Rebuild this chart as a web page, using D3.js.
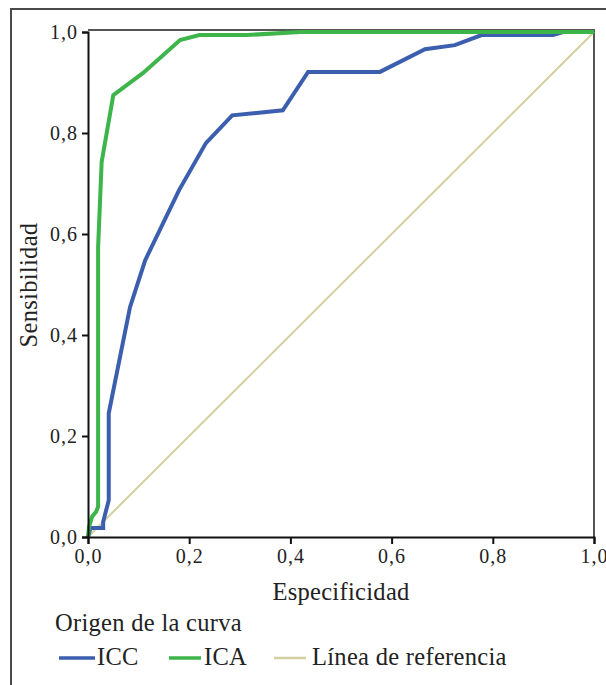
<!DOCTYPE html>
<html>
<head>
<meta charset="utf-8">
<script src="https://cdn.jsdelivr.net/npm/d3@7"></script>
<style>
  html, body { margin: 0; padding: 0; background: #fff; }
  svg { display: block; }
  text { font-family: "Liberation Serif", "Times New Roman", serif; fill: #222; }
</style>
</head>
<body>
<svg id="chart" width="606" height="685"></svg>
<script>
// ---- data ----
const iccX = [0, 0.005, 0.03, 0.03, 0.041, 0.041, 0.083, 0.113, 0.18, 0.233, 0.285, 0.385, 0.435, 0.577, 0.666, 0.725, 0.778, 0.919, 0.939, 1];
const iccY = [0, 0.018, 0.018, 0.03, 0.073, 0.245, 0.455, 0.548, 0.687, 0.78, 0.835, 0.845, 0.921, 0.921, 0.966, 0.974, 0.994, 0.994, 1, 1];
const icaX = [0, 0.002, 0.008, 0.016, 0.02, 0.02, 0.027, 0.05, 0.109, 0.182, 0.22, 0.314, 0.42, 1];
const icaY = [0, 0.02, 0.04, 0.05, 0.06, 0.574, 0.743, 0.875, 0.919, 0.984, 0.994, 0.994, 1, 1];
const refX = [0, 1];
const refY = [0, 1];
const tickValues = [0, 0.2, 0.4, 0.6, 0.8, 1.0];
const tickLabels = ["0,0", "0,2", "0,4", "0,6", "0,8", "1,0"];
const seriesNames = ["ICC", "ICA", "Línea de referencia"];
const seriesColors = ["#3b5fae", "#3db54a", "#d3cf9f"];
const xTitle = "Especificidad";
const yTitle = "Sensibilidad";
const legendTitle = "Origen de la curva";

// ---- layout ----
const svg = d3.select("#chart");
const pL = 88, pR = 594, pT = 32, pB = 537;
const x = d3.scaleLinear().domain([0, 1]).range([pL, pR]);
const y = d3.scaleLinear().domain([0, 1]).range([pB, pT]);

// outer frame
svg.append("path")
  .attr("d", "M11,690 L11,9 L612,9")
  .attr("fill", "none").attr("stroke", "#4a4a4a").attr("stroke-width", 2);

// plot frame (top/right)
svg.append("path")
  .attr("d", `M${pL},${pT - 2} L${pR},${pT - 2} L${pR},${pB}`)
  .attr("fill", "none").attr("stroke", "#555").attr("stroke-width", 2);

// reference line & curves
const line = d3.line().x(d => x(d[0])).y(d => y(d[1]));
const series = [
  { pts: d3.zip(refX, refY), color: seriesColors[2], w: 2 },
  { pts: d3.zip(iccX, iccY), color: seriesColors[0], w: 4 },
  { pts: d3.zip(icaX, icaY), color: seriesColors[1], w: 4 }
];
series.forEach(s => {
  svg.append("path").datum(s.pts).attr("d", line)
    .attr("fill", "none").attr("stroke", s.color).attr("stroke-width", s.w)
    .attr("stroke-linejoin", "miter");
});

// axes
const xAxis = d3.axisBottom(x).tickValues(tickValues).tickFormat((d, i) => tickLabels[i]).tickSize(7).tickPadding(5);
const yAxis = d3.axisLeft(y).tickValues(tickValues).tickFormat((d, i) => tickLabels[i]).tickSize(6).tickPadding(4);
const gx = svg.append("g").attr("transform", `translate(0,${pB})`).call(xAxis);
const gy = svg.append("g").attr("transform", `translate(${pL},0)`).call(yAxis);
[gx, gy].forEach(g => {
  g.select(".domain").attr("stroke", "#111").attr("stroke-width", 2);
  g.selectAll(".tick line").attr("stroke", "#111").attr("stroke-width", 2);
  g.selectAll(".tick text").attr("font-family", "Liberation Serif").attr("font-size", 20)
    .attr("fill", "#222").style("letter-spacing", "1px");
});

// axis titles
svg.append("text").attr("x", (pL + pR) / 2).attr("y", 600)
  .attr("text-anchor", "middle").attr("font-size", 24.5).style("letter-spacing", "0.3px").text(xTitle);
svg.append("text").attr("transform", "translate(37,285) rotate(-90)")
  .attr("text-anchor", "middle").attr("font-size", 24.5).style("letter-spacing", "0.3px").text(yTitle);

// legend
svg.append("text").attr("x", 55).attr("y", 631).attr("font-size", 24.5).style("letter-spacing", "0.3px").text(legendTitle);
const legendItems = [
  { x0: 59, x1: 95, tx: 97 },
  { x0: 169, x1: 201, tx: 204 },
  { x0: 274, x1: 306, tx: 312 }
];
legendItems.forEach((it, i) => {
  svg.append("line").attr("x1", it.x0).attr("x2", it.x1).attr("y1", 658).attr("y2", 658)
    .attr("stroke", seriesColors[i]).attr("stroke-width", i === 2 ? 2.5 : 3.5);
  svg.append("text").attr("x", it.tx).attr("y", 665).attr("font-size", 24.5)
    .style("letter-spacing", "0.3px").text(seriesNames[i]);
});
</script>
</body>
</html>
